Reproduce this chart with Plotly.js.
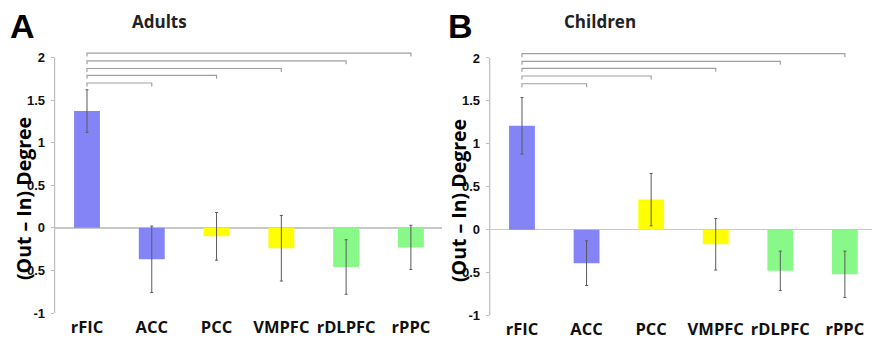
<!DOCTYPE html>
<html>
<head>
<meta charset="utf-8">
<script src="https://cdn.plot.ly/plotly-3.0.1.min.js"></script>
<style>html,body{margin:0;padding:0;background:#fff}#chart{width:872px;height:341px}</style>
</head>
<body>
<div id="chart"></div>
<script>
// ---- data ----
const categories = ['rFIC', 'ACC', 'PCC', 'VMPFC', 'rDLPFC', 'rPPC'];
const adultsMean = [1.37, -0.37, -0.10, -0.24, -0.46, -0.23];
const adultsErr  = [0.25, 0.39, 0.28, 0.385, 0.32, 0.26];
const childrenMean = [1.21, -0.39, 0.35, -0.17, -0.48, -0.52];
const childrenErr  = [0.33, 0.26, 0.305, 0.30, 0.23, 0.27];
const barColors = ['#8484f6', '#8484f6', '#ffff00', '#ffff00', '#88f888', '#88f888'];
const bracketFrom = 'rFIC';
const bracketTo = ['ACC', 'PCC', 'VMPFC', 'rDLPFC', 'rPPC'];
const bracketLevelsA = [1.70, 1.79, 1.87, 1.96, 2.05];
const bracketLevelsB = [1.70, 1.79, 1.88, 1.96, 2.05];
const yTicks = [-1, -0.5, 0, 0.5, 1, 1.5, 2];
const yTickText = ['-1', '-0.5', '0', '0.5', '1', '1.5', '2'];

// ---- layout helpers ----
const W = 872, H = 341;
const idx = categories.map((c, i) => i);
const yRange = [-1, 2.1];
const domA = {x: [54.6 / W, 442 / W], y: [(H - 313) / H, (H - 48.9) / H], xr: [-0.5, 5.48]};
const domB = {x: [489.7 / W, 1], y: [(H - 315.5) / H, (H - 49.4) / H], xr: [-0.5, 5.42]};

function barTrace(mean, err, xa, ya) {
  return {
    type: 'bar', x: idx, y: mean, xaxis: xa, yaxis: ya, width: 0.4,
    marker: {color: barColors, line: {width: 0}},
    error_y: {type: 'data', array: err, visible: true, color: '#5a5a5a', thickness: 1, width: 1.5},
    hoverinfo: 'skip', showlegend: false
  };
}

const sansBold = '"Open Sans", Lato, sans-serif';
const labelFont = {family: sansBold, size: 16.5, color: '#111', weight: 'bold'};
const tickFont = {family: '"Liberation Sans", Arial, sans-serif', size: 13, color: '#111', weight: 'bold'};

function xAxis(dom, anchor) {
  return {
    domain: dom.x, range: dom.xr, anchor: anchor, tickvals: idx, ticktext: categories,
    showgrid: false, zeroline: false, showline: false, ticks: '',
    ticklabelstandoff: 2, tickfont: labelFont, fixedrange: true
  };
}
function yAxis(dom, anchor) {
  return {
    domain: dom.y, range: yRange, anchor: anchor, tickvals: yTicks, ticktext: yTickText,
    showgrid: false, zeroline: true, zerolinecolor: '#c8c8c8', zerolinewidth: 1.5,
    showline: false, ticks: 'outside', ticklen: 3, tickcolor: '#bdbdbd',
    tickfont: tickFont, ticklabelstandoff: 3, fixedrange: true
  };
}
function zeroTickAxis(dom, over) {
  const pos = dom.y[0] + (0 - yRange[0]) / (yRange[1] - yRange[0]) * (dom.y[1] - dom.y[0]);
  return {
    domain: dom.x, range: dom.xr, overlaying: over, anchor: 'free', position: pos,
    tickvals: idx.slice(0, -1).map(i => i + 0.5), showticklabels: false,
    ticks: 'outside', ticklen: 3, tickcolor: '#bdbdbd', showgrid: false, zeroline: false, showline: false
  };
}

const shapes = [];
function addPanelShapes(xref, yref, levels) {
  const i0 = categories.indexOf(bracketFrom);
  const d = 0.04;
  bracketTo.forEach((c, k) => {
    const i1 = categories.indexOf(c);
    const y = levels[k];
    shapes.push({type: 'path', xref: xref, yref: yref,
      path: `M ${i0},${y - d} L ${i0},${y} L ${i1},${y} L ${i1},${y - d}`,
      line: {color: '#a0a0a0', width: 1.2}});
  });
  // y-axis line from -1 to 2
  shapes.push({type: 'line', xref: xref + ' domain', yref: yref, x0: 0, x1: 0, y0: yTicks[0], y1: yTicks[yTicks.length - 1],
    line: {color: '#c0c0c0', width: 1.3}});
}
addPanelShapes('x', 'y', bracketLevelsA);
addPanelShapes('x2', 'y2', bracketLevelsB);

const titleFont = {family: sansBold, size: 17, color: '#222', weight: 'bold'};
const letterFont = {family: '"Liberation Sans", Arial, sans-serif', size: 34, color: '#000', weight: 'bold'};
const ytFont = {family: sansBold, size: 19.5, color: '#000', weight: 'bold'};

const annotations = [
  {text: 'A', x: 8 / W, y: 1 - 26 / H, xanchor: 'left', yanchor: 'middle', font: letterFont},
  {text: 'B', x: 446 / W, y: 1 - 26 / H, xanchor: 'left', yanchor: 'middle', font: letterFont},
  {text: 'Adults', x: 159 / W, y: 1 - 22 / H, xanchor: 'center', yanchor: 'middle', font: titleFont},
  {text: 'Children', x: 600 / W, y: 1 - 22 / H, xanchor: 'center', yanchor: 'middle', font: titleFont},
  {text: '(Out \u2013 In) Degree', x: 23 / W, y: 1 - 199 / H, textangle: -90, xanchor: 'center', yanchor: 'middle', font: ytFont},
  {text: '(Out \u2013 In) Degree', x: 458 / W, y: 1 - 201 / H, textangle: -90, xanchor: 'center', yanchor: 'middle', font: ytFont}
].map(a => Object.assign({xref: 'paper', yref: 'paper', showarrow: false}, a));

const layout = {
  width: W, height: H, margin: {l: 0, r: 0, t: 0, b: 0},
  paper_bgcolor: '#fff', plot_bgcolor: 'rgba(0,0,0,0)',
  bargap: 0.6, showlegend: false,
  xaxis: xAxis(domA, 'y'), yaxis: yAxis(domA, 'x'),
  xaxis2: xAxis(domB, 'y2'), yaxis2: yAxis(domB, 'x2'),
  xaxis3: zeroTickAxis(domA, 'x'), xaxis4: zeroTickAxis(domB, 'x2'),
  shapes: shapes, annotations: annotations
};

Plotly.newPlot('chart', [
  barTrace(adultsMean, adultsErr, 'x', 'y'),
  barTrace(childrenMean, childrenErr, 'x2', 'y2')
], layout, {staticPlot: true, displayModeBar: false});
</script>
</body>
</html>
